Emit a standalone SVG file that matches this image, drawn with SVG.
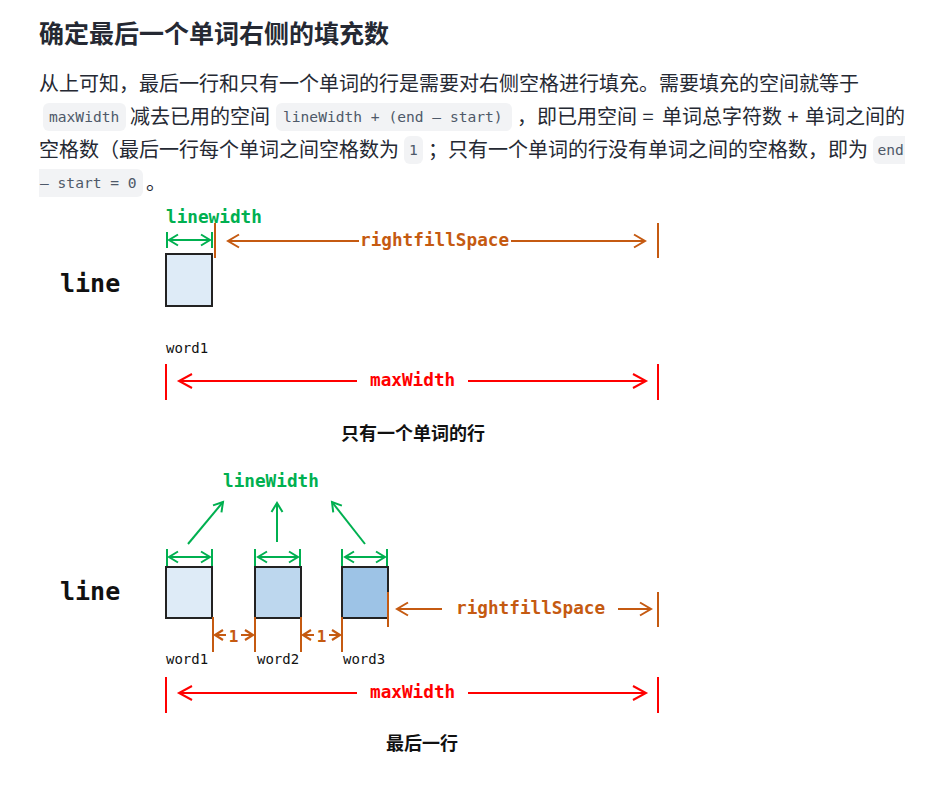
<svg xmlns="http://www.w3.org/2000/svg" width="934" height="789" viewBox="0 0 934 789">
<style>
.p{font-family:"Noto Sans CJK SC","Noto Sans",sans-serif;font-size:20px;fill:#252933}
.h{font-family:"Noto Sans CJK SC","Noto Sans",sans-serif;font-size:25px;font-weight:700;fill:#252933}
.c{font-family:"DejaVu Sans Mono","Liberation Mono",monospace;font-size:14.6px;fill:#4e5969}
.chip{fill:#f2f3f5}
.m{font-family:"DejaVu Sans Mono","Liberation Mono",monospace;font-weight:700;font-size:17.7px}
.big{font-family:"DejaVu Sans Mono","Liberation Mono",monospace;font-weight:700;font-size:25px;fill:#111}
.w{font-family:"DejaVu Sans Mono","Liberation Mono",monospace;font-size:14px;fill:#111}
.cap{font-family:"Noto Sans CJK SC","Noto Sans",sans-serif;font-weight:700;font-size:18px;fill:#111}
.gf{fill:#00b050}.of{fill:#c55a11}.rf{fill:#ff0000}
.gs{stroke:#00b050;stroke-width:2;fill:none}
.os{stroke:#c55a11;stroke-width:2;fill:none}
.rs{stroke:#ff0000;stroke-width:2;fill:none}
.box{stroke:#222;stroke-width:2}
</style>
<defs>
<marker id="mg" viewBox="0 0 9 11" refX="9" refY="5.5" markerWidth="9" markerHeight="11" orient="auto-start-reverse" markerUnits="userSpaceOnUse" overflow="visible"><path d="M0,0 L9,5.5 L0,11" fill="none" stroke="#00b050" stroke-width="2"/></marker>
<marker id="mo" viewBox="0 0 11 13" refX="11" refY="6.5" markerWidth="11" markerHeight="13" orient="auto-start-reverse" markerUnits="userSpaceOnUse" overflow="visible"><path d="M0,0 L11,6.5 L0,13" fill="none" stroke="#c55a11" stroke-width="2"/></marker>
<marker id="mos" viewBox="0 0 8 10" refX="8" refY="5" markerWidth="8" markerHeight="10" orient="auto-start-reverse" markerUnits="userSpaceOnUse" overflow="visible"><path d="M0,0 L8,5 L0,10" fill="none" stroke="#c55a11" stroke-width="2.2"/></marker>
<marker id="mr" viewBox="0 0 13 14" refX="13" refY="7" markerWidth="13" markerHeight="14" orient="auto-start-reverse" markerUnits="userSpaceOnUse" overflow="visible"><path d="M0,0 L13,7 L0,14" fill="none" stroke="#ff0000" stroke-width="2"/></marker>
</defs>
<rect width="934" height="789" fill="#fff"/>

<g id="title"><text class="h" x="39" y="43">确定最后一个单词右侧的填充数</text></g>

<g id="paragraph">
<text class="p" x="39" y="91">从上可知，最后一行和只有一个单词的行是需要对右侧空格进行填充。需要填充的空间就等于</text>
<rect class="chip" x="43" y="103" width="83" height="28" rx="6"/>
<text class="c" x="49" y="122">maxWidth</text>
<text class="p" x="130" y="124">减去已用的空间</text>
<rect class="chip" x="276" y="103" width="236" height="28" rx="6"/>
<text class="c" x="283" y="122">lineWidth + (end – start)</text>
<text class="p" x="517" y="124">，即已用空间</text>
<text class="p" x="648" y="124" text-anchor="middle">=</text>
<text class="p" x="662" y="124">单词总字符数</text>
<text class="p" x="793" y="124" text-anchor="middle">+</text>
<text class="p" x="805" y="124">单词之间的</text>
<text class="p" x="39" y="157">空格数（最后一行每个单词之间空格数为</text>
<rect class="chip" x="404" y="136" width="19" height="28" rx="6"/>
<text class="c" x="413.5" y="155" text-anchor="middle">1</text>
<text class="p" x="428" y="157">；</text>
<text class="p" x="448" y="157" textLength="420" lengthAdjust="spacing">只有一个单词的行没有单词之间的空格数，即为</text>
<path class="chip" d="M879,136 H905 V164 H879 A6,6 0 0 1 873,158 V142 A6,6 0 0 1 879,136 Z"/>
<text class="c" x="877.5" y="155">end</text>
<path class="chip" d="M39,169 H137 A6,6 0 0 1 143,175 V191 A6,6 0 0 1 137,197 H39 Z"/>
<text class="c" x="40" y="188">– start = 0</text>
<text class="p" x="146" y="190">。</text>
</g>

<g id="diagram-single">
<g id="line-label-1"><text class="big" x="60" y="292">line</text></g>
<g id="word1-single">
<rect class="box" x="166" y="254" width="46" height="52" fill="#deebf7"/>
<text class="w" x="166" y="353">word1</text>
</g>
<g id="linewidth-label-1"><text class="m gf" x="166" y="223">linewidth</text></g>
<g id="rightfill-label-1"><text class="m of" x="360" y="246">rightfillSpace</text></g>
<g id="maxwidth-label-1"><text class="m rf" x="370" y="386">maxWidth</text></g>
<g id="caption-1"><text class="cap" x="413" y="440" text-anchor="middle">只有一个单词的行</text></g>
</g>

<g id="diagram-last">
<g id="line-label-2"><text class="big" x="60" y="600">line</text></g>
<g id="word1-last">
<rect class="box" x="166" y="567" width="46" height="51" fill="#deebf7"/>
<text class="w" x="166" y="664">word1</text>
</g>
<g id="word2-last">
<rect class="box" x="255" y="567" width="46" height="51" fill="#bdd7ee"/>
<text class="w" x="257" y="664">word2</text>
</g>
<g id="word3-last">
<rect class="box" x="342" y="567" width="46" height="51" fill="#9dc3e6"/>
<text class="w" x="343" y="664">word3</text>
</g>
<g id="linewidth-label-2"><text class="m gf" x="223" y="487">lineWidth</text></g>
<g id="space-labels">
<text class="m of" x="233.5" y="642" text-anchor="middle" style="font-size:16px">1</text>
<text class="m of" x="321.5" y="642" text-anchor="middle" style="font-size:16px">1</text>
</g>
<g id="rightfill-label-2"><text class="m of" x="456" y="614">rightfillSpace</text></g>
<g id="maxwidth-label-2"><text class="m rf" x="370" y="698">maxWidth</text></g>
<g id="caption-2"><text class="cap" x="422" y="750" text-anchor="middle">最后一行</text></g>
</g>

<g id="connectors">
<path class="gs" d="M167,232 V248 M212,232 V248"/>
<path class="gs" d="M169,240 H210" marker-start="url(#mg)" marker-end="url(#mg)"/>
<path class="os" d="M215,223 V258 M658,223 V258"/>
<path class="os" d="M228,241 H359" marker-start="url(#mo)"/>
<path class="os" d="M511,241 H645" marker-end="url(#mo)"/>
<path class="rs" d="M166,364 V400 M658,364 V400"/>
<path class="rs" d="M179,381 H357" marker-start="url(#mr)"/>
<path class="rs" d="M468,381 H646" marker-end="url(#mr)"/>
<path class="gs" d="M188,544 L223,502" marker-end="url(#mg)"/>
<path class="gs" d="M277,542 V503" marker-end="url(#mg)"/>
<path class="gs" d="M365,544 L332,502" marker-end="url(#mg)"/>
<path class="gs" d="M167,549 V566 M212,549 V566 M255,549 V566 M300,549 V566 M342,549 V566 M387,549 V566"/>
<path class="gs" d="M169,557 H210" marker-start="url(#mg)" marker-end="url(#mg)"/>
<path class="gs" d="M258,557 H298" marker-start="url(#mg)" marker-end="url(#mg)"/>
<path class="gs" d="M345,557 H385" marker-start="url(#mg)" marker-end="url(#mg)"/>
<path class="os" d="M213,617 V652 M255,617 V652 M301,617 V652 M342,617 V652 M388,592 V627 M658,592 V627"/>
<path class="os" d="M215,635 H226" marker-start="url(#mos)"/>
<path class="os" d="M241,635 H253" marker-end="url(#mos)"/>
<path class="os" d="M303,635 H314" marker-start="url(#mos)"/>
<path class="os" d="M329,635 H340" marker-end="url(#mos)"/>
<path class="os" d="M397,609 H442" marker-start="url(#mo)"/>
<path class="os" d="M618,609 H651" marker-end="url(#mo)"/>
<path class="rs" d="M166,677 V713 M658,677 V713"/>
<path class="rs" d="M179,693 H357" marker-start="url(#mr)"/>
<path class="rs" d="M468,693 H646" marker-end="url(#mr)"/>
</g>
</svg>
